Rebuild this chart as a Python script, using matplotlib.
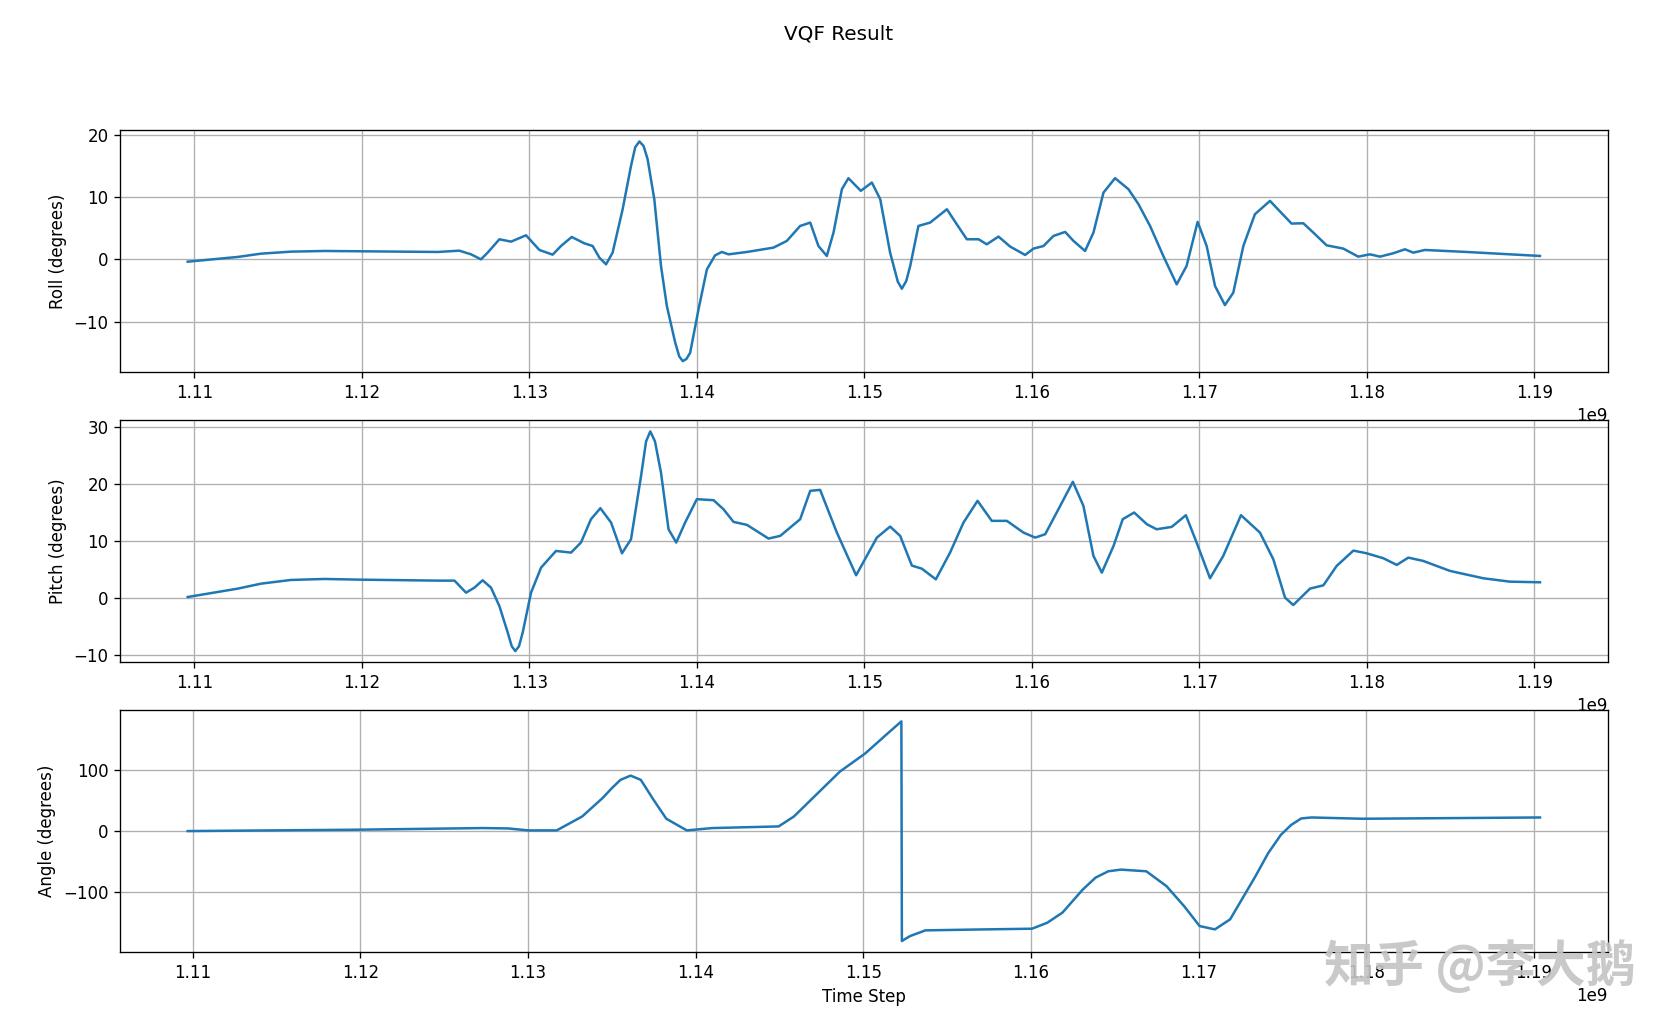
import numpy as np
import matplotlib
matplotlib.use("Agg")
import matplotlib.pyplot as plt

# Time (in units of 1e9)
roll_t = [1.10960, 1.11259, 1.11398, 1.11577, 1.11776, 1.11995, 1.12453, 1.12582, 1.12652, 1.12711,
          1.12751, 1.12821, 1.12891, 1.12980, 1.13060, 1.13139, 1.13189, 1.13253, 1.13328, 1.13378,
          1.13418, 1.13458, 1.13497, 1.13557, 1.13607, 1.13632, 1.13657, 1.13682, 1.13706, 1.13746,
          1.13786, 1.13821, 1.13871, 1.13895, 1.13916, 1.13938, 1.13960, 1.14010, 1.14060, 1.14109,
          1.14149, 1.14189, 1.14299, 1.14458, 1.14537, 1.14617, 1.14677, 1.14726, 1.14776, 1.14816,
          1.14866, 1.14905, 1.14979, 1.15045, 1.15095, 1.15154, 1.15200, 1.15224, 1.15250, 1.15274,
          1.15323, 1.15393, 1.15493, 1.15552, 1.15612, 1.15682, 1.15731, 1.15801, 1.15871, 1.15960,
          1.16010, 1.16070, 1.16129, 1.16199, 1.16249, 1.16318, 1.16368, 1.16428, 1.16497, 1.16577,
          1.16637, 1.16706, 1.16785, 1.16865, 1.16924, 1.16990, 1.17044, 1.17094, 1.17153, 1.17203,
          1.17263, 1.17332, 1.17422, 1.17492, 1.17551, 1.17621, 1.17681, 1.17760, 1.17860, 1.17949,
          1.18019, 1.18079, 1.18158, 1.18228, 1.18278, 1.18347, 1.18596, 1.19034]
roll = [-0.38, 0.38, 0.91, 1.23, 1.34, 1.29, 1.18, 1.39, 0.80, 0.0,
        1.07, 3.22, 2.84, 3.86, 1.50, 0.75, 2.14, 3.59, 2.57, 2.14,
        0.27, -0.80, 1.07, 8.04, 15.01, 18.0, 18.93, 18.2, 16.09, 9.65,
        -1.07, -7.51, -13.40, -15.6, -16.35, -16.0, -15.01, -8.04, -1.61, 0.64,
        1.18, 0.80, 1.18, 1.88, 2.95, 5.36, 5.90, 2.14, 0.54, 4.29,
        11.26, 13.03, 11.0, 12.33, 9.65, 1.07, -3.6, -4.72, -3.5, -1.07,
        5.36, 5.90, 8.04, 5.63, 3.22, 3.22, 2.41, 3.65, 2.04, 0.70,
        1.72, 2.14, 3.75, 4.40, 2.95, 1.34, 4.29, 10.72, 13.03, 11.26,
        8.85, 5.36, 0.54, -4.02, -1.07, 6.01, 2.14, -4.29, -7.35, -5.36,
        2.14, 7.24, 9.38, 7.40, 5.74, 5.79, 4.29, 2.25, 1.72, 0.43,
        0.80, 0.43, 0.97, 1.61, 1.07, 1.50, 1.18, 0.54]

pitch_t = [1.10960, 1.11259, 1.11398, 1.11577, 1.11776, 1.11995, 1.12453, 1.12553, 1.12622, 1.12672,
           1.12721, 1.12771, 1.12821, 1.12871, 1.12895, 1.12916, 1.12938, 1.12960, 1.13010, 1.13070,
           1.13159, 1.13249, 1.13308, 1.13368, 1.13424, 1.13488, 1.13553, 1.13607, 1.13667, 1.13697,
           1.13722, 1.13750, 1.13786, 1.13831, 1.13877, 1.13930, 1.14000, 1.14100, 1.14159, 1.14219,
           1.14299, 1.14428, 1.14498, 1.14617, 1.14677, 1.14736, 1.14836, 1.14951, 1.15075, 1.15154,
           1.15214, 1.15284, 1.15343, 1.15427, 1.15512, 1.15592, 1.15676, 1.15761, 1.15851, 1.15950,
           1.16020, 1.16080, 1.16159, 1.16245, 1.16308, 1.16368, 1.16418, 1.16488, 1.16543, 1.16611,
           1.16687, 1.16745, 1.16835, 1.16920, 1.16984, 1.17064, 1.17143, 1.17249, 1.17362, 1.17442,
           1.17512, 1.17561, 1.17661, 1.17741, 1.17820, 1.17920, 1.17999, 1.18099, 1.18179, 1.18248,
           1.18337, 1.18497, 1.18696, 1.18855, 1.19034]
pitch = [0.23, 1.70, 2.57, 3.22, 3.39, 3.27, 3.10, 3.10, 0.99, 1.87,
         3.16, 1.87, -1.35, -6.02, -8.4, -9.24, -8.4, -6.02, 0.99, 5.38,
         8.30, 8.01, 9.77, 13.86, 15.79, 13.27, 7.89, 10.35, 21.46, 27.5,
         29.24, 27.5, 22.0, 12.1, 9.77, 13.27, 17.37, 17.19, 15.61, 13.39,
         12.87, 10.47, 10.94, 13.86, 18.83, 19.0, 11.52, 4.04, 10.64, 12.57,
         10.94, 5.73, 5.20, 3.33, 8.01, 13.27, 17.08, 13.57, 13.57, 11.52,
         10.64, 11.23, 15.61, 20.41, 16.2, 7.43, 4.50, 9.18, 13.86, 15.03,
         12.98, 12.1, 12.51, 14.56, 9.77, 3.51, 7.43, 14.56, 11.52, 6.84,
         0.12, -1.17, 1.70, 2.28, 5.67, 8.36, 7.89, 7.02, 5.85, 7.13,
         6.55, 4.80, 3.51, 2.92, 2.81]

angle_t = [1.10970, 1.11968, 1.12729, 1.12881, 1.13003, 1.13171, 1.13323, 1.13444, 1.13500, 1.13551,
           1.13612, 1.13673, 1.13749, 1.13825, 1.13947, 1.14099, 1.14495, 1.14586, 1.14708, 1.14860,
           1.15012, 1.15134, 1.15227, 1.15230, 1.15250, 1.15279, 1.15370, 1.15703, 1.16006, 1.16097,
           1.16188, 1.16309, 1.16385, 1.16461, 1.16536, 1.16688, 1.16809, 1.16915, 1.17006, 1.17097,
           1.17188, 1.17339, 1.17415, 1.17491, 1.17552, 1.17612, 1.17673, 1.17976, 1.19036]
angle = [0.0, 2.2, 4.9, 4.3, 1.1, 1.1, 23.8, 53.7, 70.0, 83.5,
         90.5, 83.5, 50.9, 20.1, 1.1, 4.9, 7.6, 23.8, 56.4, 97.0,
         126.8, 156.6, 179.0, -179.4, -176.0, -171.3, -162.0, -160.5, -159.3, -149.6,
         -133.0, -95.4, -76.0, -65.6, -62.9, -65.6, -90.0, -123.0, -155.0, -160.4,
         -144.0, -73.7, -36.0, -6.0, 10.0, 20.6, 22.2, 20.1, 22.2]

roll_ticks = [-10, 0, 10, 20]
pitch_ticks = [-10, 0, 10, 20, 30]
angle_ticks = [-100, 0, 100]

dpi = 120
fig, axes = plt.subplots(3, 1, figsize=(1677 / dpi, 1033 / dpi), dpi=dpi)
fig.subplots_adjust(left=0.0716, right=0.9586, top=0.8737, bottom=0.0784, hspace=0.2)
fig.suptitle("VQF Result", fontsize=12, y=0.976)

series = [(roll_t, roll, "Roll (degrees)", roll_ticks),
          (pitch_t, pitch, "Pitch (degrees)", pitch_ticks),
          (angle_t, angle, "Angle (degrees)", angle_ticks)]
for ax, (t, v, lab, ticks) in zip(axes, series):
    ax.plot(np.array(t) * 1e9, v, color="#1f77b4", linewidth=1.5)
    ax.set_ylabel(lab)
    ax.set_yticks(ticks)
    ax.grid(True)
axes[2].set_xlabel("Time Step")

fig.text(0.8826, 0.065, "知乎 @李大鹅", fontsize=30, fontweight="bold",
         color="#c4c4c4", alpha=0.9, ha="center", va="center",
         family=["Noto Sans CJK SC", "DejaVu Sans"])

fig.savefig("out.png", dpi=dpi)
